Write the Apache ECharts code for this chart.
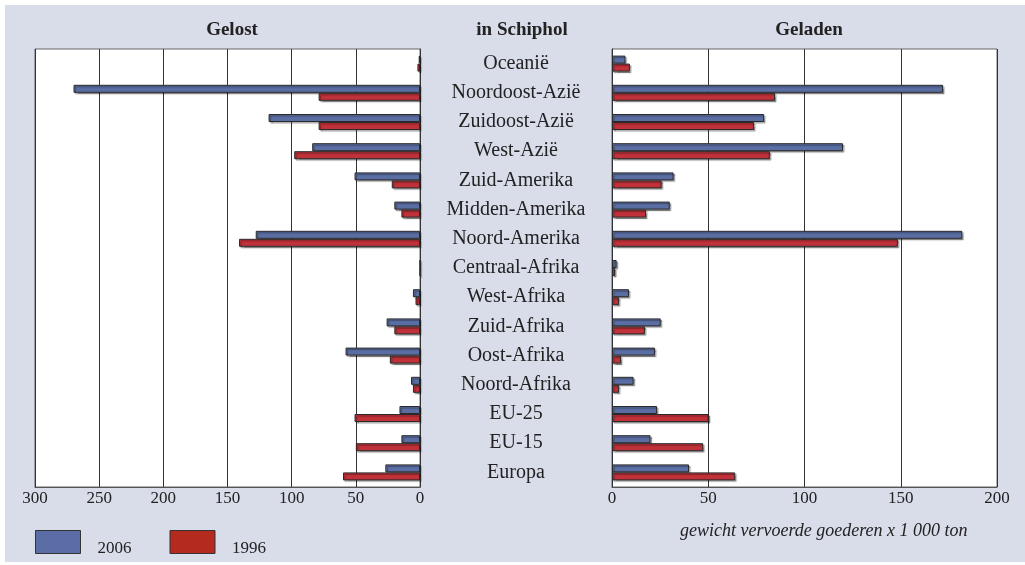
<!DOCTYPE html>
<html>
<head>
<meta charset="utf-8">
<script src="https://cdn.jsdelivr.net/npm/echarts@6/dist/echarts.min.js"></script>
<style>
  html, body { margin: 0; padding: 0; background: #fff; }
  #chart { width: 1025px; height: 565px; }
</style>
</head>
<body>
<div id="chart"></div>
<script>
// regio's, van boven naar onder
var regions = [
  "Oceanië", "Noordoost-Azië", "Zuidoost-Azië", "West-Azië", "Zuid-Amerika",
  "Midden-Amerika", "Noord-Amerika", "Centraal-Afrika", "West-Afrika", "Zuid-Afrika",
  "Oost-Afrika", "Noord-Afrika", "EU-25", "EU-15", "Europa"
];
// gelost (x 1 000 ton)
var gelost2006 = [1, 270, 118, 84, 51, 20, 128, 0, 5.5, 26, 58, 7, 16, 14.5, 27];
var gelost1996 = [2, 79, 79, 98, 22, 14.5, 141, 0, 3.5, 20, 23.5, 5.5, 51, 50, 60];
// geladen (x 1 000 ton)
var geladen2006 = [7, 172, 79, 120, 32, 30, 182, 2.4, 8.8, 25.3, 22.3, 11.2, 23.4, 20, 40];
var geladen1996 = [9.3, 84.7, 73.8, 82, 25.8, 17.7, 148.5, 1.6, 3.6, 17.1, 4.7, 3.6, 50.2, 47.4, 64];

var blue = "#5a6ea3";
var red = "#c0313a";
var serif = "Liberation Serif";

var chart = echarts.init(document.getElementById("chart"));

function barStyle(color) {
  return {
    color: color,
    borderColor: "#2a2a2a",
    borderWidth: 1,
    shadowColor: "rgba(0,0,0,0.35)",
    shadowOffsetX: 1.5,
    shadowOffsetY: 1.5,
    shadowBlur: 1
  };
}

function xAxisOpt(grid, max, inverse) {
  return {
    gridIndex: grid,
    type: "value",
    min: 0,
    max: max,
    interval: 50,
    inverse: inverse,
    axisLine: { show: true, lineStyle: { color: "#555" } },
    axisTick: { show: false },
    axisLabel: { color: "#222", fontFamily: serif, fontSize: 17, margin: 3 },
    splitLine: { show: true, lineStyle: { color: "#333", width: 1 } }
  };
}

chart.setOption({
  backgroundColor: "#d9dce9",
  animation: false,
  textStyle: { fontFamily: serif },
  graphic: [
    { type: "rect", shape: { x: 0, y: 0, width: 1025, height: 5 }, style: { fill: "#fff" } },
    { type: "rect", shape: { x: 0, y: 0, width: 5, height: 565 }, style: { fill: "#fff" } },
    { type: "rect", shape: { x: 0, y: 562, width: 1025, height: 3 }, style: { fill: "#fff" } },
    {
      type: "text", left: 680, top: 522,
      style: {
        text: "gewicht vervoerde goederen x 1 000 ton",
        font: "italic 18px 'Liberation Serif'",
        fill: "#222"
      }
    }
  ],
  title: [
    { text: "Gelost", left: 227, top: 16, textAlign: "center",
      textStyle: { fontFamily: serif, fontSize: 19, fontWeight: "bold", color: "#222" } },
    { text: "in Schiphol", left: 517, top: 16, textAlign: "center",
      textStyle: { fontFamily: serif, fontSize: 19, fontWeight: "bold", color: "#222" } },
    { text: "Geladen", left: 804, top: 16, textAlign: "center",
      textStyle: { fontFamily: serif, fontSize: 19, fontWeight: "bold", color: "#222" } }
  ],
  legend: {
    left: 35,
    top: 530,
    padding: 0,
    icon: "rect",
    itemWidth: 45,
    itemHeight: 23,
    itemGap: 38,
    data: [
      { name: "2006", itemStyle: { color: "#5a6ea5", borderColor: "#333", borderWidth: 1, shadowBlur: 0, shadowOffsetX: 0, shadowOffsetY: 0 } },
      { name: "1996", itemStyle: { color: "#b52a1f", borderColor: "#333", borderWidth: 1, shadowBlur: 0, shadowOffsetX: 0, shadowOffsetY: 0 } }
    ],
    formatter: "{t|{name}}",
    textStyle: {
      rich: {
        t: { fontFamily: serif, fontSize: 17, color: "#222", padding: [14, 0, 0, 12] }
      }
    }
  },
  grid: [
    { left: 35, top: 49, width: 385, height: 438, show: true, backgroundColor: "#fff", borderColor: "#666", borderWidth: 1 },
    { left: 612, top: 49, width: 385, height: 438, show: true, backgroundColor: "#fff", borderColor: "#666", borderWidth: 1 }
  ],
  xAxis: [
    xAxisOpt(0, 300, true),
    xAxisOpt(1, 200, false)
  ],
  yAxis: [
    {
      gridIndex: 0, type: "category", data: regions, inverse: true, position: "right",
      axisLine: { show: true, lineStyle: { color: "#333" } },
      axisTick: { show: false }, axisLabel: { show: false }
    },
    {
      gridIndex: 1, type: "category", data: regions, inverse: true, position: "left",
      axisLine: { show: true, lineStyle: { color: "#333" } },
      axisTick: { show: false },
      axisLabel: { color: "#222", fontFamily: serif, fontSize: 20, align: "center", margin: 96, padding: [4, 0, 0, 0] }
    }
  ],
  series: [
    { name: "2006", type: "bar", xAxisIndex: 0, yAxisIndex: 0, data: gelost2006, barWidth: 8, barGap: "0%", itemStyle: barStyle(blue) },
    { name: "1996", type: "bar", xAxisIndex: 0, yAxisIndex: 0, data: gelost1996, barWidth: 8, barGap: "0%", itemStyle: barStyle(red) },
    { name: "2006", type: "bar", xAxisIndex: 1, yAxisIndex: 1, data: geladen2006, barWidth: 8, barGap: "0%", itemStyle: barStyle(blue) },
    { name: "1996", type: "bar", xAxisIndex: 1, yAxisIndex: 1, data: geladen1996, barWidth: 8, barGap: "0%", itemStyle: barStyle(red) }
  ]
});
</script>
</body>
</html>
